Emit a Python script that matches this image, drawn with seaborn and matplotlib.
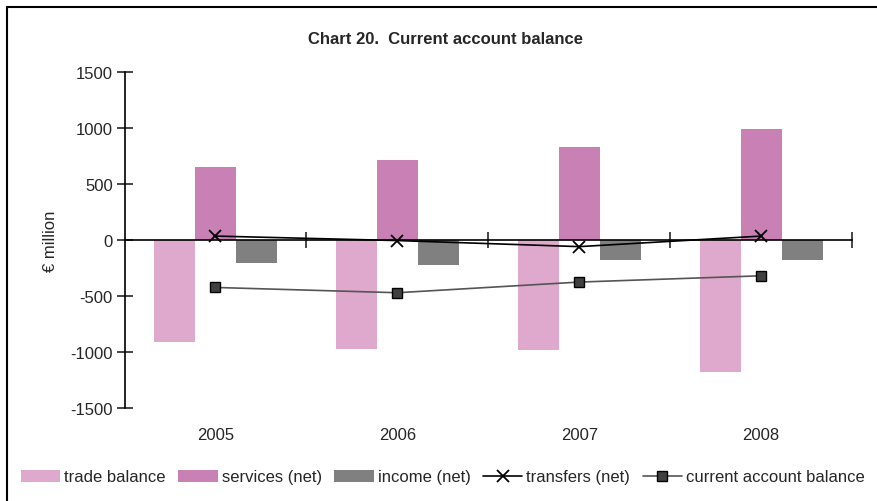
import matplotlib
matplotlib.use("Agg")
import matplotlib.pyplot as plt
import matplotlib.transforms as mtransforms
from matplotlib.patches import Patch
from matplotlib.lines import Line2D
import seaborn as sns
import pandas as pd

years = ["2005", "2006", "2007", "2008"]
trade_balance = [-910, -973, -982, -1177]
services_net = [647, 710, 825, 993]
income_net = [-201, -219, -175, -175]
transfers_net = [35, -5, -59, 35]
current_account = [-423, -470, -375, -319]
yticks = [1500, 1000, 500, 0, -500, -1000, -1500]

bar_series = ["trade balance", "services (net)", "income (net)"]
bar_colors = ["#DEA9CC", "#C980B5", "#808080"]

df = pd.DataFrame({
    "year": years * 3,
    "series": [s for s in bar_series for _ in years],
    "value": trade_balance + services_net + income_net,
})

sns.set_style("white")
plt.rcParams["font.family"] = ["Liberation Sans", "DejaVu Sans"]

fig = plt.figure(figsize=(8.77, 5.02), dpi=100)
ax = fig.add_axes([124.5 / 877, 1 - 409.3 / 502, (852 - 124.5) / 877, (409.3 - 72.7) / 502])

sns.barplot(data=df, x="year", y="value", hue="series", order=years,
            hue_order=bar_series, palette=bar_colors, saturation=1,
            width=0.676, errorbar=None, linewidth=0, ax=ax, legend=False, zorder=2)

xpos = list(range(len(years)))
ax.plot(xpos, transfers_net, color="black", lw=1.2, marker="x", ms=8, mew=1.3, zorder=4)
ax.plot(xpos, current_account, color="#555555", lw=1.2, marker="s", ms=7,
        mfc="#404040", mec="black", mew=1.0, zorder=4)

ax.set_xlim(-0.5, 3.5)
ax.set_ylim(-1500, 1500)
ax.set_yticks(yticks)
ax.set_yticklabels([str(v) for v in yticks])
ax.tick_params(axis="y", direction="inout", length=11, width=1.2, labelsize=12, pad=3, left=True)

for s in ["top", "right"]:
    ax.spines[s].set_visible(False)
ax.spines["left"].set_color("black")
ax.spines["left"].set_linewidth(1.2)
ax.spines["bottom"].set_position(("data", 0))
ax.spines["bottom"].set_color("black")
ax.spines["bottom"].set_linewidth(1.2)
ax.spines["bottom"].set_zorder(3)

ax.set_xticks([0.5, 1.5, 2.5, 3.5])
ax.set_xticklabels([])
ax.tick_params(axis="x", direction="inout", length=11, width=1.2, bottom=True)
ax.set_xlabel("")
ax.set_ylabel("€ million", fontsize=12, labelpad=9)

trans = mtransforms.blended_transform_factory(ax.transData, fig.transFigure)
for i, y in enumerate(years):
    ax.text(i, 1 - 436 / 502, y, transform=trans, ha="center", va="center", fontsize=12)

fig.text(445 / 877, 1 - 40 / 502, "Chart 20.  Current account balance",
         ha="center", va="center", fontsize=12, fontweight="bold")

handles = [Patch(facecolor=c, edgecolor="none") for c in bar_colors]
handles.append(Line2D([0], [0], color="black", lw=1.2, marker="x", ms=8, mew=1.3))
handles.append(Line2D([0], [0], color="#555555", lw=1.2, marker="s", ms=7,
                      mfc="#404040", mec="black"))
labels = bar_series + ["transfers (net)", "current account balance"]
fig.legend(handles, labels, loc="center", bbox_to_anchor=(443 / 877, 1 - 478 / 502),
           ncol=5, frameon=False, fontsize=12, handlelength=2.35, handleheight=0.75,
           handletextpad=0.25, columnspacing=0.75, borderpad=0)

fig.add_artist(Line2D([7 / 877, 7 / 877], [0, 1 - 8 / 502], color="black", lw=1.5,
                      transform=fig.transFigure))
fig.add_artist(Line2D([7 / 877, 1], [1 - 8 / 502, 1 - 8 / 502], color="black", lw=1.5,
                      transform=fig.transFigure))

fig.savefig("out.png", dpi=100)
